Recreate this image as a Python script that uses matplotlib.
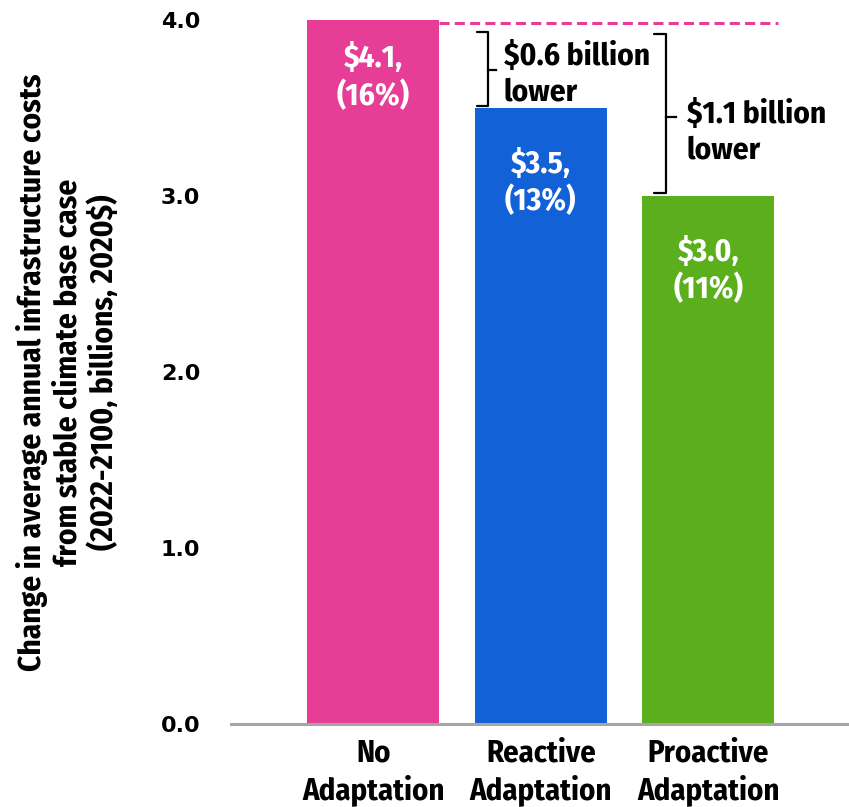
import matplotlib
matplotlib.use('Agg')
import matplotlib.pyplot as plt

# Bar data: annual infrastructure cost change per scenario
categories = ['No\nAdaptation', 'Reactive\nAdaptation', 'Proactive\nAdaptation']
values = [4.1, 3.5, 3.0]
percents = [16, 13, 11]
bar_colors = ['#E63E96', '#1261D6', '#5BAE1C']
y_ticks = [0.0, 1.0, 2.0, 3.0, 4.0]

narrow = 'Fira Sans Condensed'

fig = plt.figure(figsize=(8.49, 8.07), dpi=100)
ax = fig.add_axes([0.272, 0.1029, 0.728, 0.872])

x = list(range(len(categories)))
ax.bar(x, values, width=0.79, color=bar_colors, zorder=2)
ax.set_xlim(-0.85, 2.84)
ax.set_ylim(0, 4.0)

# Spines: only a grey baseline
for side in ['top', 'right', 'left']:
    ax.spines[side].set_visible(False)
ax.spines['bottom'].set_color('#A6A6A6')
ax.spines['bottom'].set_linewidth(2.2)
ax.spines['bottom'].set_zorder(3)

ax.set_yticks(y_ticks)
ax.set_yticklabels([f'{t:.1f}' for t in y_ticks], fontsize=16, fontweight='bold',
                   family='DejaVu Sans')
ax.set_xticks(x)
ax.set_xticklabels(categories, fontsize=22, fontweight='bold', family=narrow,
                   linespacing=1.25)
ax.tick_params(axis='y', length=0, pad=22)
ax.tick_params(axis='x', length=0, pad=10)

# Value labels inside bars (first bar runs past the axis top)
for xi, v, p in zip(x, values, percents):
    ax.annotate(f'${v:.1f},\n({p}%)', xy=(xi, v), xytext=(0, -29),
                textcoords='offset points', ha='center', va='top', color='white',
                fontsize=22.5, fontweight='bold', family=narrow, linespacing=1.25,
                annotation_clip=False, zorder=4)

# Dashed reference line at the no-adaptation level
ax.plot([0.395, 2.415], [3.985, 3.985], color='#E63E96', lw=2.2,
        dashes=(3.3, 1.7), clip_on=False, zorder=3)


def bracket(x0, x1, xtip, top, bottom, mid):
    ax.plot([x0, x1, x1, x0], [top, top, bottom, bottom], color='black', lw=1.6,
            solid_joinstyle='round', solid_capstyle='round', zorder=3)
    ax.plot([x1, xtip], [mid, mid], color='black', lw=1.6, zorder=3)


bracket(0.622, 0.682, 0.735, 3.935, values[1] + 0.01, 3.72)
ax.text(0.78, 3.695, f'${values[0] - values[1]:.1f} billion\nlower', ha='left',
        va='center', fontsize=22.5, fontweight='bold', family=narrow, linespacing=1.25)

bracket(1.675, 1.75, 1.81, 3.92, values[2] + 0.02, 3.45)
ax.text(1.87, 3.365, f'${values[0] - values[2]:.1f} billion\nlower', ha='left',
        va='center', fontsize=22.5, fontweight='bold', family=narrow, linespacing=1.25)

fig.text(0.08, 0.539,
         'Change in average annual infrastructure costs\nfrom stable climate base case\n(2022-2100, billions, 2020$)',
         rotation=90, ha='center', va='center', multialignment='center',
         fontsize=22.5, fontweight='bold', family=narrow, linespacing=1.2)

fig.savefig('out.png', dpi=100)
